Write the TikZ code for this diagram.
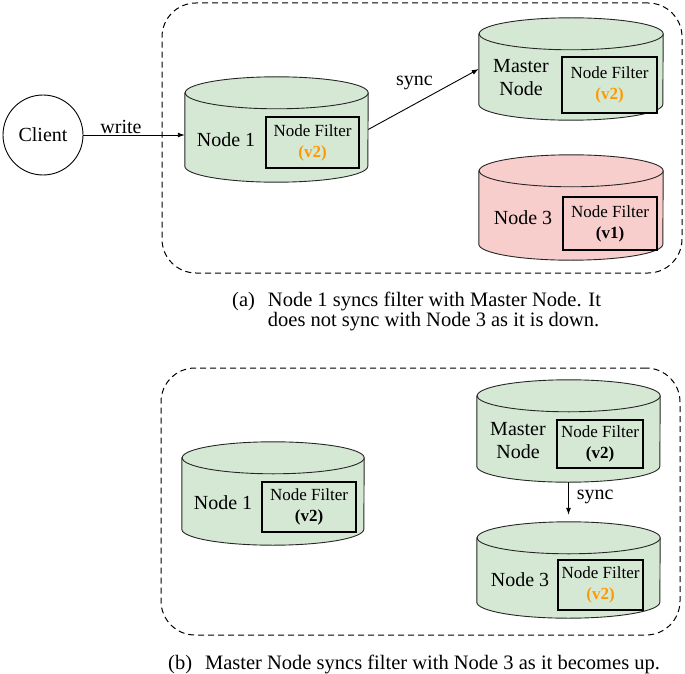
\documentclass[tikz,border=0pt]{standalone}
\usepackage{fontspec}
\setmainfont{Liberation Serif}
\usetikzlibrary{arrows.meta}
\definecolor{nodegreen}{HTML}{D5E8D4}
\definecolor{nodered}{HTML}{F8CECC}
\definecolor{verorange}{HTML}{FF9900}
\tikzset{frame/.style={draw,dashed,dash pattern=on 6pt off 4pt,line width=1pt,rounded corners=34pt}}
\tikzset{cylbox/.style={inner sep=0pt}}
\tikzset{cylline/.style={line width=0.9pt,draw=black!85}}
\tikzset{filter/.style={draw,line width=1.3pt,inner sep=1pt,align=center,font=\fontsize{17}{21}\selectfont}}
\tikzset{lbl/.style={inner sep=1pt,align=center,font=\fontsize{20}{23}\selectfont}}
\tikzset{captxt/.style={inner sep=0pt,font=\fontsize{20.5}{20}\selectfont}}
\tikzset{client/.style={circle,draw,line width=0.9pt,minimum size=80pt,inner sep=0pt,font=\fontsize{20}{23}\selectfont}}
% cylinder: name, x, y, half width, height, fill
\newcommand{\dbcyl}[6]{%
  \node[cylbox,minimum width=2*#4,minimum height=#5] (#1) at (#2,#3) {};
  \filldraw[cylline,fill=#6] ([yshift=-16pt]#1.north west) -- ([yshift=16pt]#1.south west)
    arc[start angle=180,end angle=360,x radius=#4pt,y radius=16pt] -- ([yshift=-16pt]#1.north east)
    arc[start angle=0,end angle=180,x radius=#4pt,y radius=16pt] -- cycle;
  \draw[cylline] ([yshift=-16pt]#1.north east) arc[start angle=0,end angle=-180,x radius=#4pt,y radius=16pt];
}
\begin{document}
\begin{tikzpicture}[x=1pt,y=1pt,>={Latex[length=7pt,width=5pt]}]
  \useasboundingbox (0,0) rectangle (685,-674);
  % (a)
  \node[frame,minimum width=520,minimum height=270] (frameA) at (422,-138) {};
  \node[client] (client) at (43,-135) {Client};
  \dbcyl{nodeA}{276.5}{-129.5}{91.5}{105}{nodegreen}
  \node[lbl] (nodeAlbl) at (226,-140) {Node 1};
  \node[filter,minimum width=93,minimum height=51,fill=nodegreen] (filtA) at (312.5,-142.5) {Node Filter\\\textcolor{verorange}{\textbf{(v2)}}};
  \dbcyl{masterA}{571}{-69}{92}{102}{nodegreen}
  \node[lbl] (masterAlbl) at (521,-78) {Master\\Node};
  \node[filter,minimum width=95,minimum height=56,fill=nodegreen] (filtMA) at (609.5,-85) {Node Filter\\\textcolor{verorange}{\textbf{(v2)}}};
  \dbcyl{downA}{571}{-207.5}{92}{105}{nodered}
  \node[lbl] (downAlbl) at (523,-218) {Node 3};
  \node[filter,minimum width=94,minimum height=53,fill=nodered] (filtDA) at (610,-223.5) {Node Filter\\\textbf{(v1)}};
  \draw[->,line width=0.9pt] (client.east) -- node[lbl,above,pos=.37] {write} (client.east -| nodeA.west);
  \draw[->,line width=0.9pt] (nodeA.east) -- node[lbl,midway,above=8pt,xshift=-9pt] {sync} (masterA.west);
  \node[captxt,anchor=base west] (capA) at (232,-306) {\begin{tabular}[t]{@{}l@{\hskip 13pt}l@{}}(a) & Node 1 syncs filter with Master Node. It\\ & does not sync with Node 3 as it is down.\end{tabular}};
  % (b)
  \node[frame,minimum width=519,minimum height=267] (frameB) at (420.5,-501.5) {};
  \dbcyl{nodeB}{273}{-493.5}{91}{103}{nodegreen}
  \node[lbl] (nodeBlbl) at (223,-503) {Node 1};
  \node[filter,minimum width=94,minimum height=50,fill=nodegreen] (filtB) at (309,-507) {Node Filter\\\textbf{(v2)}};
  \dbcyl{masterB}{568.5}{-431}{91.5}{102}{nodegreen}
  \node[lbl] (masterBlbl) at (518,-441) {Master\\Node};
  \node[filter,minimum width=86,minimum height=48,fill=nodegreen] (filtMB) at (600,-444) {Node Filter\\\textbf{(v2)}};
  \dbcyl{upB}{568.5}{-570}{91.5}{96}{nodegreen}
  \node[lbl] (upBlbl) at (520,-580) {Node 3};
  \node[filter,minimum width=85,minimum height=50,fill=nodegreen] (filtUB) at (600.5,-585) {Node Filter\\\textcolor{verorange}{\textbf{(v2)}}};
  \draw[->,line width=0.9pt,shorten >=7pt] (masterB.south) -- node[lbl,right=7pt,yshift=5pt] {sync} (upB.north);
  \node[captxt,anchor=base west] (capB) at (168,-669) {\begin{tabular}[t]{@{}l@{\hskip 13pt}l@{}}(b) & Master Node syncs filter with Node 3 as it becomes up.\end{tabular}};
\end{tikzpicture}
\end{document}
